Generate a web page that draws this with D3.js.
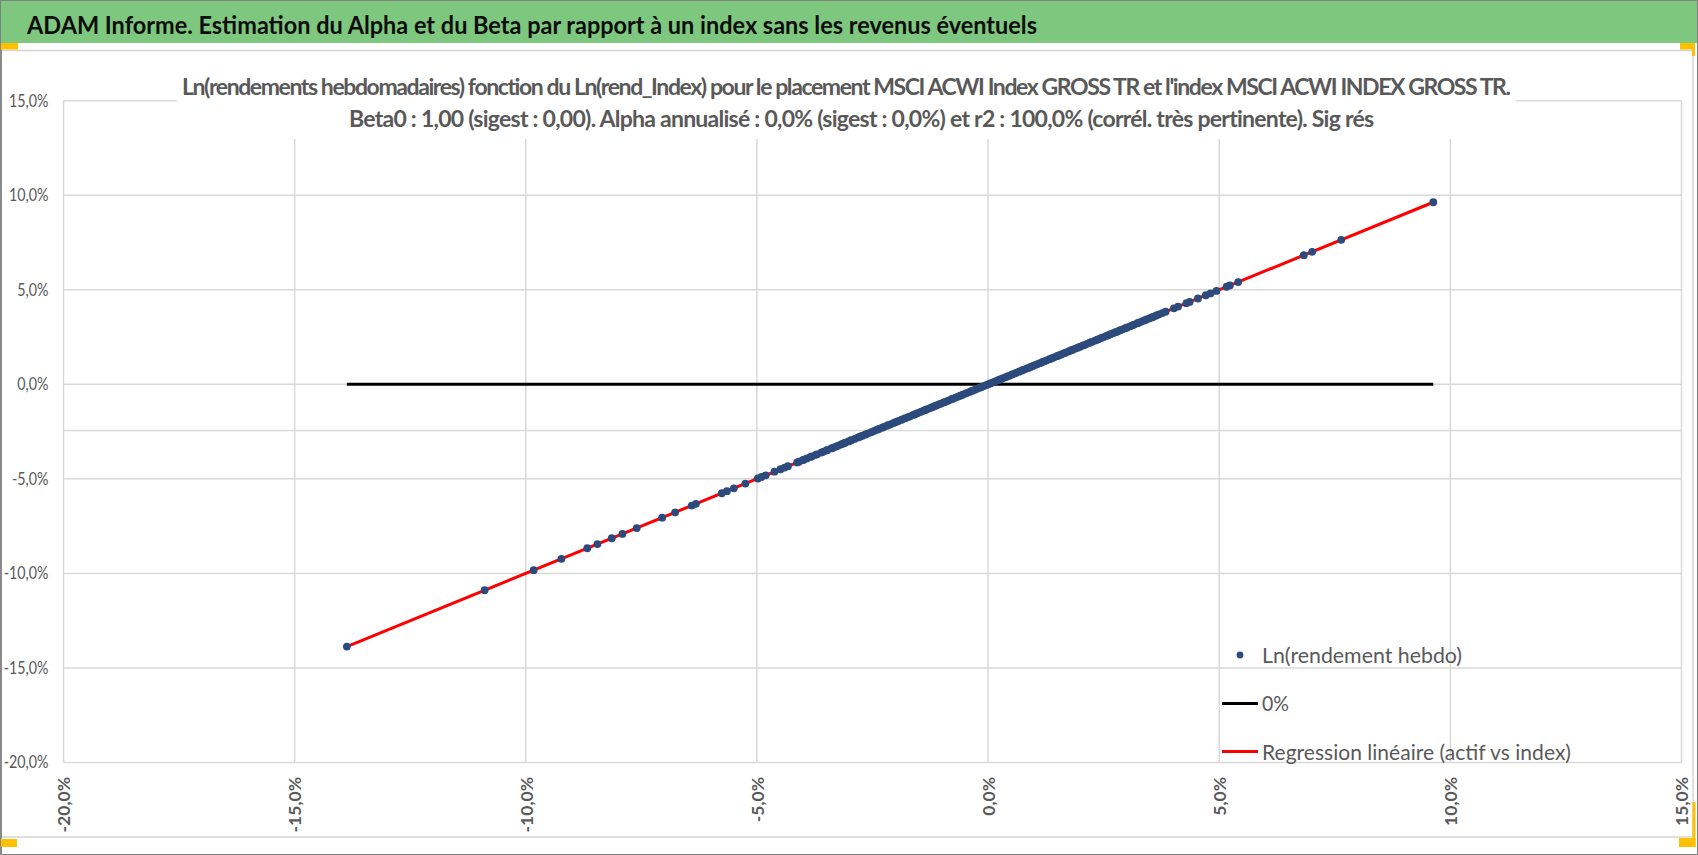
<!DOCTYPE html>
<html>
<head>
<meta charset="utf-8">
<script src="https://cdn.jsdelivr.net/npm/d3@7"></script>
<style>
  body { margin: 0; background: #fff; }
  text { font-family: Lato, "Open Sans", sans-serif; }
</style>
</head>
<body>
<div id="chart"></div>
<script>
// ---- data (values in %) ----
var bandTitle = "ADAM Informe. Estimation du Alpha et du Beta par rapport à un index sans les revenus éventuels";
var chartTitle = [
  "Ln(rendements hebdomadaires) fonction du Ln(rend_Index) pour le placement MSCI ACWI Index GROSS TR et l'index MSCI ACWI INDEX GROSS TR.",
  "Beta0 : 1,00 (sigest : 0,00).  Alpha annualisé : 0,0% (sigest : 0,0%) et r2 : 100,0% (corrél. très pertinente). Sig rés"
];
var legendLabels = ["Ln(rendement hebdo)", "0%", "Regression linéaire (actif vs index)"];
var xTicks = [-20, -15, -10, -5, 0, 5, 10, 15];
var yTicks = [-20, -15, -10, -5, 0, 5, 10, 15];

// Ln(rend_Index), weekly
var indexReturns = [
  -13.87, -10.89, -9.83, -9.23, -8.67, -8.45, -8.14, -7.91, -7.60, -7.05, -6.77, -6.41, -6.32,
  -5.76, -5.65, -5.50, -5.25, -4.98, -4.90, -4.81, -4.62, -4.49, -4.40, -4.33,
  -4.13, -4.09, -4.01, -3.98, -3.92, -3.84, -3.81, -3.73, -3.70, -3.61, -3.57, -3.50, -3.48, -3.39,
  -3.35, -3.29, -3.24, -3.18, -3.13, -3.09, -3.02, -2.97, -2.95, -2.88, -2.81, -2.77, -2.72, -2.66,
  -2.62, -2.55, -2.51, -2.46, -2.40, -2.36, -2.29, -2.25, -2.19, -2.15, -2.10, -2.04, -1.99, -1.95,
  -1.88, -1.84, -1.79, -1.73, -1.69, -1.62, -1.58, -1.53, -1.47, -1.43, -1.37, -1.33, -1.27, -1.22,
  -1.17, -1.12, -1.06, -1.02, -0.96, -0.91, -0.86, -0.80, -0.76, -0.70, -0.65, -0.60, -0.55, -0.49,
  -0.45, -0.39, -0.34, -0.29, -0.24, -0.18, -0.14, -0.08, -0.03, 0.02, 0.06, 0.12, 0.17, 0.22, 0.26,
  0.31, 0.37, 0.41, 0.46, 0.52, 0.57, 0.61, 0.67, 0.72, 0.76, 0.82, 0.87, 0.92, 0.97, 1.03, 1.07,
  1.12, 1.18, 1.23, 1.27, 1.33, 1.38, 1.43, 1.49, 1.53, 1.58, 1.64, 1.68, 1.74, 1.79, 1.83, 1.89,
  1.94, 1.99, 2.05, 2.09, 2.14, 2.20, 2.24, 2.30, 2.35, 2.39, 2.45, 2.50, 2.56, 2.60, 2.65, 2.71,
  2.76, 2.80, 2.86, 2.91, 2.97, 3.01, 3.07, 3.12, 3.16, 3.23, 3.27, 3.33, 3.38, 3.43, 3.49, 3.54,
  3.58, 3.64, 3.70, 3.77,
  3.84, 4.02, 4.11, 4.29, 4.36, 4.54, 4.71, 4.81, 4.94, 5.16, 5.23, 5.41, 6.83, 7.01, 7.64, 9.63
];
// Ln(rendement hebdo) of the asset (same series, beta 1)
var assetReturns = [
  -13.87, -10.89, -9.83, -9.23, -8.67, -8.45, -8.14, -7.91, -7.60, -7.05, -6.77, -6.41, -6.32,
  -5.76, -5.65, -5.50, -5.25, -4.98, -4.90, -4.81, -4.62, -4.49, -4.40, -4.33,
  -4.13, -4.09, -4.01, -3.98, -3.92, -3.84, -3.81, -3.73, -3.70, -3.61, -3.57, -3.50, -3.48, -3.39,
  -3.35, -3.29, -3.24, -3.18, -3.13, -3.09, -3.02, -2.97, -2.95, -2.88, -2.81, -2.77, -2.72, -2.66,
  -2.62, -2.55, -2.51, -2.46, -2.40, -2.36, -2.29, -2.25, -2.19, -2.15, -2.10, -2.04, -1.99, -1.95,
  -1.88, -1.84, -1.79, -1.73, -1.69, -1.62, -1.58, -1.53, -1.47, -1.43, -1.37, -1.33, -1.27, -1.22,
  -1.17, -1.12, -1.06, -1.02, -0.96, -0.91, -0.86, -0.80, -0.76, -0.70, -0.65, -0.60, -0.55, -0.49,
  -0.45, -0.39, -0.34, -0.29, -0.24, -0.18, -0.14, -0.08, -0.03, 0.02, 0.06, 0.12, 0.17, 0.22, 0.26,
  0.31, 0.37, 0.41, 0.46, 0.52, 0.57, 0.61, 0.67, 0.72, 0.76, 0.82, 0.87, 0.92, 0.97, 1.03, 1.07,
  1.12, 1.18, 1.23, 1.27, 1.33, 1.38, 1.43, 1.49, 1.53, 1.58, 1.64, 1.68, 1.74, 1.79, 1.83, 1.89,
  1.94, 1.99, 2.05, 2.09, 2.14, 2.20, 2.24, 2.30, 2.35, 2.39, 2.45, 2.50, 2.56, 2.60, 2.65, 2.71,
  2.76, 2.80, 2.86, 2.91, 2.97, 3.01, 3.07, 3.12, 3.16, 3.23, 3.27, 3.33, 3.38, 3.43, 3.49, 3.54,
  3.58, 3.64, 3.70, 3.77,
  3.84, 4.02, 4.11, 4.29, 4.36, 4.54, 4.71, 4.81, 4.94, 5.16, 5.23, 5.41, 6.83, 7.01, 7.64, 9.63
];
var beta0 = 1.00, alpha0 = 0.0;

// ---- layout ----
var W = 1698, H = 855;
var plot = {left: 63.5, right: 1681.5, top: 100.7, bottom: 762.5};
var grey = "#595959", gridCol = "#d9d9d9", dotCol = "#2c4a7c", orange = "#ffc000";

var svg = d3.select("#chart")
  .append("svg")
    .attr("width", W)
    .attr("height", H);

var x = d3.scaleLinear().domain([-20, 15]).range([plot.left, plot.right]);
var y = d3.scaleLinear().domain([-20, 15]).range([plot.bottom, plot.top]);
var fmt = function(d) { return d.toFixed(1).replace(".", ",") + "%"; };

function squeeze(sel, k) {
  sel.each(function() {
    var w = this.getComputedTextLength();
    this.setAttribute("textLength", w * k);
    this.setAttribute("lengthAdjust", "spacingAndGlyphs");
  });
}
// tighten letter spacing until the text fits the wanted width
function fitSpacing(sel, target) {
  sel.each(function() {
    var w = this.getComputedTextLength();
    var n = this.textContent.length;
    if (w > target) this.setAttribute("letter-spacing", ((target - w) / n).toFixed(3));
  });
}

// frame and header band
svg.append("rect").attr("x", 0).attr("y", 0).attr("width", W).attr("height", 43)
  .attr("fill", "#7ec77e");
svg.append("rect").attr("x", 0.5).attr("y", 0.5).attr("width", W - 1).attr("height", H - 1)
  .attr("fill", "none").attr("stroke", "#808080");
svg.append("line").attr("x1", 0).attr("x2", 1693).attr("y1", 50.5).attr("y2", 50.5)
  .attr("stroke", "#d4d4d4").attr("stroke-width", 1.5);
svg.append("line").attr("x1", 1693).attr("x2", 1693).attr("y1", 50).attr("y2", 837)
  .attr("stroke", "#d4d4d4").attr("stroke-width", 1.5);
svg.append("line").attr("x1", 0).attr("x2", 1693).attr("y1", 837).attr("y2", 837)
  .attr("stroke", "#d4d4d4").attr("stroke-width", 1.5);
svg.append("line").attr("x1", 1).attr("x2", 1).attr("y1", 43).attr("y2", H)
  .attr("stroke", "#8a8a8a").attr("stroke-width", 2);

// little orange handles
svg.append("rect").attr("x", 1).attr("y", 43).attr("width", 17).attr("height", 6.5).attr("fill", orange);
svg.append("rect").attr("x", 1680).attr("y", 43).attr("width", 15).attr("height", 6.5).attr("fill", orange);
svg.append("rect").attr("x", 1692).attr("y", 43).attr("width", 3).attr("height", 13).attr("fill", orange);
svg.append("rect").attr("x", 1).attr("y", 839).attr("width", 16).attr("height", 8).attr("fill", orange);
svg.append("rect").attr("x", 1692.5).attr("y", 802).attr("width", 3).attr("height", 45).attr("fill", orange);
svg.append("rect").attr("x", 1679).attr("y", 838).attr("width", 16.5).attr("height", 9).attr("fill", orange);

svg.append("text")
  .attr("x", 27).attr("y", 34)
  .attr("font-size", 25.5).attr("font-weight", "bold").attr("fill", "#0d0d0d")
  .attr("textLength", 1010).attr("lengthAdjust", "spacingAndGlyphs")
  .text(bandTitle);

// gridlines
svg.append("g")
  .selectAll("line.h")
  .data(yTicks)
  .enter().append("line")
    .attr("x1", plot.left).attr("x2", plot.right)
    .attr("y1", function(d) { return y(d); })
    .attr("y2", function(d) { return y(d); })
    .attr("stroke", gridCol).attr("stroke-width", 1.5);
svg.append("g")
  .selectAll("line.v")
  .data(xTicks)
  .enter().append("line")
    .attr("x1", function(d) { return x(d); })
    .attr("x2", function(d) { return x(d); })
    .attr("y1", plot.top).attr("y2", plot.bottom)
    .attr("stroke", gridCol).attr("stroke-width", 1.5);
// stray sheet rule crossing the plot
svg.append("line")
  .attr("x1", plot.left).attr("x2", plot.right)
  .attr("y1", y(-2.44)).attr("y2", y(-2.44))
  .attr("stroke", gridCol).attr("stroke-width", 1.5);

// title box sits over the top of the plot
svg.append("rect").attr("x", 177).attr("y", 58).attr("width", 1339).attr("height", 81)
  .attr("fill", "#fff");
svg.append("text")
  .attr("x", 182).attr("y", 95)
  .attr("font-size", 23).attr("font-weight", "bold").attr("fill", grey)
  .text(chartTitle[0])
  .call(fitSpacing, 1328);
svg.append("text")
  .attr("x", 349).attr("y", 127)
  .attr("font-size", 23).attr("font-weight", "bold").attr("fill", grey)
  .text(chartTitle[1])
  .call(fitSpacing, 1024);

// axes
var yAxis = svg.append("g")
  .attr("transform", "translate(" + plot.left + ",0)")
  .call(d3.axisLeft(y).tickValues(yTicks).tickFormat(fmt).tickSize(0).tickPadding(15));
yAxis.select(".domain").remove();
yAxis.selectAll("text")
  .attr("font-size", 17).attr("fill", grey).attr("font-family", "Lato, sans-serif")
  .call(squeeze, 0.84);

var xAxis = svg.append("g")
  .attr("transform", "translate(0," + plot.bottom + ")")
  .call(d3.axisBottom(x).tickValues(xTicks).tickFormat(fmt).tickSize(0));
xAxis.select(".domain").remove();
xAxis.selectAll("text")
  .attr("transform", "rotate(-90)")
  .attr("text-anchor", "end")
  .attr("x", -14.5).attr("y", 0).attr("dy", "0.36em")
  .attr("font-size", 17.5).attr("font-weight", "bold").attr("fill", grey)
  .attr("font-family", "Lato, sans-serif");

// series
var pts = indexReturns.map(function(v, i) { return {x: v, y: assetReturns[i]}; });
var xMin = d3.min(indexReturns), xMax = d3.max(indexReturns);

svg.append("line")
  .attr("x1", x(xMin)).attr("x2", x(xMax))
  .attr("y1", y(0)).attr("y2", y(0))
  .attr("stroke", "#000").attr("stroke-width", 3);

svg.append("line")
  .attr("x1", x(xMin)).attr("x2", x(xMax))
  .attr("y1", y(alpha0 + beta0 * xMin)).attr("y2", y(alpha0 + beta0 * xMax))
  .attr("stroke", "#ff0000").attr("stroke-width", 3);

svg.append("g")
  .selectAll("circle")
  .data(pts)
  .enter().append("circle")
    .attr("cx", function(d) { return x(d.x); })
    .attr("cy", function(d) { return y(d.y); })
    .attr("r", 3.9)
    .attr("fill", dotCol);

// legend
var leg = svg.append("g").attr("transform", "translate(1222,655)");
leg.append("circle").attr("cx", 18).attr("cy", 0).attr("r", 3.4).attr("fill", dotCol);
leg.append("line").attr("x1", 0).attr("x2", 36).attr("y1", 48.5).attr("y2", 48.5)
  .attr("stroke", "#000").attr("stroke-width", 3);
leg.append("line").attr("x1", 0).attr("x2", 36).attr("y1", 96.5).attr("y2", 96.5)
  .attr("stroke", "#ff0000").attr("stroke-width", 3);
var legWidths = [200, 27, 309];
leg.selectAll("text")
  .data(legendLabels)
  .enter().append("text")
    .attr("x", 40)
    .attr("y", function(d, i) { return i * 48.5 + 7.5; })
    .attr("font-size", 22).attr("fill", grey)
    .attr("textLength", function(d, i) { return legWidths[i]; })
    .attr("lengthAdjust", "spacingAndGlyphs")
    .text(function(d) { return d; });
</script>
</body>
</html>
